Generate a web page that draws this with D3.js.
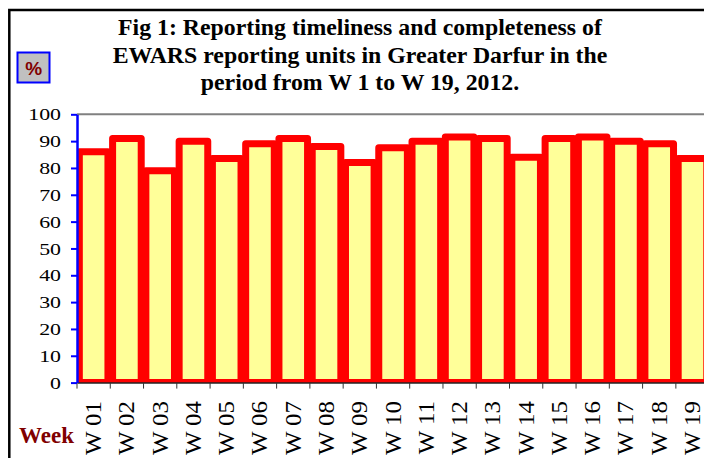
<!DOCTYPE html>
<html lang="en">
<head>
<meta charset="UTF-8">
<title>EWARS reporting timeliness</title>
<script src="https://cdnjs.cloudflare.com/ajax/libs/d3/7.8.5/d3.min.js"></script>
<style>
  body { margin: 0; background: #fff; }
  svg { display: block; }
</style>
</head>
<body>
<script>
// data
var weeks = ["W 01","W 02","W 03","W 04","W 05","W 06","W 07","W 08","W 09","W 10",
             "W 11","W 12","W 13","W 14","W 15","W 16","W 17","W 18","W 19"];
var completeness = [86, 91, 79, 90, 83.5, 89, 91, 88, 82, 87.5,
                    90, 91.5, 91, 84, 91, 91.5, 90, 89, 83.5];
var yTicks = [0,10,20,30,40,50,60,70,80,90,100];
var titleLines = ["Fig 1: Reporting timeliness and completeness of",
                  "EWARS reporting units in Greater Darfur in the",
                  "period from W 1 to W 19, 2012."];

var W = 704, H = 458;
var serif = "'Liberation Serif', 'Times New Roman', serif";
var svg = d3.select("body").append("svg")
    .attr("width", W)
    .attr("height", H);

// outer frame of the chart (runs past the right and bottom edges)
svg.append("rect")
    .attr("x", 9.3).attr("y", 10)
    .attr("width", 760).attr("height", 500)
    .attr("fill", "none")
    .attr("stroke", "#000")
    .attr("stroke-width", 2.5);

// title
svg.append("g").selectAll("text")
    .data(titleLines)
    .enter().append("text")
    .attr("x", 360)
    .attr("y", function(d, i){ return 35 + i * 27.5; })
    .attr("text-anchor", "middle")
    .style("font-family", serif)
    .style("font-weight", "bold")
    .style("font-size", "23.8px")
    .text(function(d){ return d; });

// "%" unit box
svg.append("rect")
    .attr("x", 17.5).attr("y", 52.5)
    .attr("width", 32).attr("height", 30)
    .attr("fill", "#c0c0c0")
    .attr("stroke", "#0000ff")
    .attr("stroke-width", 2);
svg.append("text")
    .attr("x", 33.8).attr("y", 75)
    .attr("text-anchor", "middle")
    .style("font-family", "'Liberation Sans', Arial, sans-serif")
    .style("font-weight", "bold")
    .style("font-size", "19px")
    .style("fill", "#800000")
    .text("%");

// scales
var x0 = 77, bandW = 33.27;
var xScale = d3.scaleBand()
    .domain(weeks)
    .range([x0, x0 + bandW * weeks.length])
    .paddingInner(0.14)
    .paddingOuter(0.07);
var yScale = d3.scaleLinear().domain([0, 100]).range([382.6, 114.3]);

// plot area top border
svg.append("line")
    .attr("x1", x0).attr("x2", W)
    .attr("y1", yScale(100)).attr("y2", yScale(100))
    .attr("stroke", "#808080")
    .attr("stroke-width", 2);

// bars, clipped to the plot area
svg.append("clipPath").attr("id", "plotclip")
    .append("rect")
    .attr("x", x0).attr("y", 0)
    .attr("width", W).attr("height", yScale(0) + 0.5);

svg.append("g")
    .attr("clip-path", "url(#plotclip)")
    .selectAll("rect")
    .data(completeness)
    .enter().append("rect")
    .attr("x", function(d, i){ return xScale(weeks[i]); })
    .attr("y", function(d){ return yScale(d); })
    .attr("width", xScale.bandwidth())
    .attr("height", function(d){ return yScale(0) - yScale(d); })
    .attr("fill", "#ffff99")
    .attr("stroke", "#ff0000")
    .attr("stroke-width", 7)
    .attr("stroke-linejoin", "round");

// x axis: line, boundary ticks and rotated week labels
var labStretch = 1.08;
var xAxisG = svg.append("g")
    .attr("transform", "translate(0," + yScale(0) + ")")
    .call(d3.axisBottom(xScale).tickSize(0).tickSizeOuter(0));
xAxisG.select(".domain")
    .attr("stroke", "#222")
    .attr("stroke-width", 1.5);
xAxisG.selectAll(".tick text")
    .attr("transform", "rotate(-90) scale(" + labStretch + ",1)")
    .attr("text-anchor", "end")
    .attr("x", -18.5 / labStretch)
    .attr("y", 7.5)
    .attr("dy", 0)
    .style("font-family", serif)
    .style("font-size", "23px")
    .style("fill", "#000");
xAxisG.selectAll(".bound")
    .data(weeks)
    .enter().append("line")
    .attr("class", "bound")
    .attr("x1", function(d){ return xScale(d) - xScale.step() * xScale.paddingInner() / 2; })
    .attr("x2", function(d){ return xScale(d) - xScale.step() * xScale.paddingInner() / 2; })
    .attr("y1", 0).attr("y2", 6)
    .attr("stroke", "#333")
    .attr("stroke-width", 1);

// y axis
var tickStretch = 1.25;
var yAxisG = svg.append("g")
    .attr("transform", "translate(" + x0 + ",0)")
    .call(d3.axisLeft(yScale).tickValues(yTicks).tickSize(6).tickSizeOuter(0));
yAxisG.select(".domain")
    .attr("stroke", "#0000ff")
    .attr("stroke-width", 2.5);
yAxisG.selectAll(".tick line")
    .attr("stroke", "#0000ff")
    .attr("stroke-width", 2);
yAxisG.selectAll(".tick text")
    .attr("transform", "scale(" + tickStretch + ",1)")
    .attr("x", -16 / tickStretch)
    .style("font-family", serif)
    .style("font-size", "17.5px")
    .style("fill", "#000");

// x axis title
svg.append("text")
    .attr("x", 19).attr("y", 443)
    .style("font-family", serif)
    .style("font-weight", "bold")
    .style("font-size", "23px")
    .style("fill", "#800000")
    .text("Week");
</script>
</body>
</html>
